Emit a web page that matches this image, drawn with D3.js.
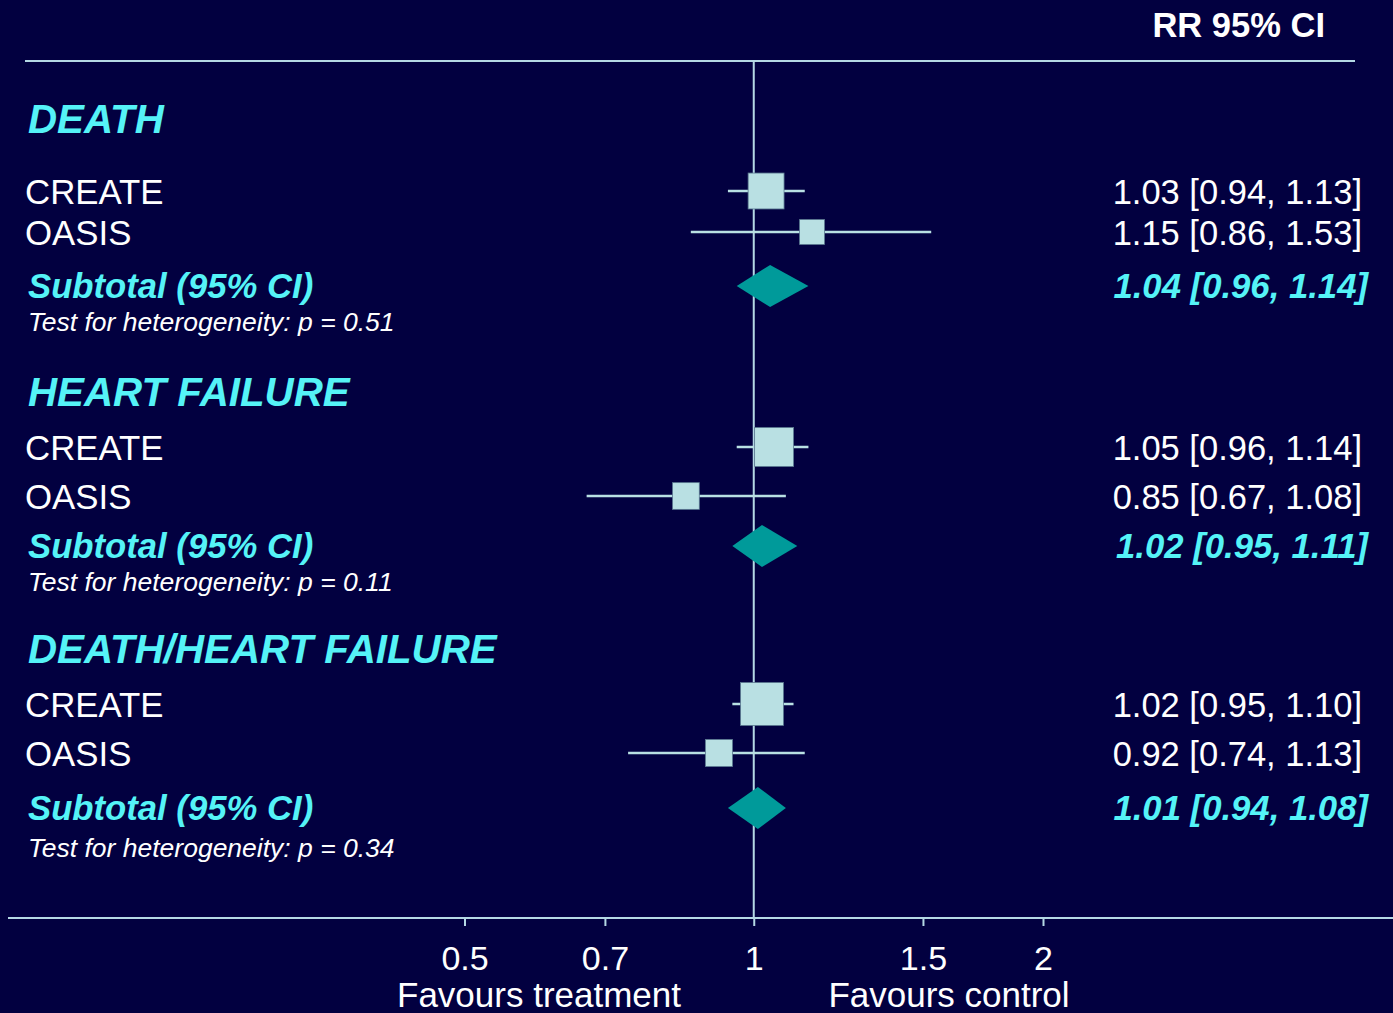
<!DOCTYPE html>
<html>
<head>
<meta charset="utf-8">
<script src="https://cdn.jsdelivr.net/npm/d3@7/dist/d3.min.js"></script>
<style>
  html, body { margin: 0; padding: 0; background: #020040; }
  svg { display: block; }
  text { font-family: "Liberation Sans", Arial, sans-serif; }
</style>
</head>
<body>
<svg id="chart" width="1393" height="1013"></svg>
<script>
// ---------- DATA ----------
const groups = ["DEATH", "HEART FAILURE", "DEATH/HEART FAILURE"];
const studies = ["CREATE", "OASIS"];
const studyRR = [[1.03, 1.15], [1.05, 0.85], [1.02, 0.92]];
const studyLo = [[0.94, 0.86], [0.96, 0.67], [0.95, 0.74]];
const studyHi = [[1.13, 1.53], [1.14, 1.08], [1.10, 1.13]];
const studyWeight = [[56, 27], [66, 31], [80, 32]];
const subRR = [1.04, 1.02, 1.01];
const subLo = [0.96, 0.95, 0.94];
const subHi = [1.14, 1.11, 1.08];
const hetP = ["0.51", "0.11", "0.34"];
const tickValues = [0.5, 0.7, 1, 1.5, 2];
const tickLabels = ["0.5", "0.7", "1", "1.5", "2"];
const headerLabel = "RR 95% CI";
const favourLeft = "Favours treatment";
const favourRight = "Favours control";

// ---------- LAYOUT ----------
const W = 1393, H = 1013;
const bg = "#020040";
const lineCol = "#b4d8e4";
const boxCol = "#b9e0e3";
const diamondCol = "#009a9a";
const cyan = "#55f3f7";
const white = "#ffffff";

// title baselines, study centres, subtotal centre, heterogeneity baseline per group
const layout = [
  { title: 133, rows: [191, 232], sub: 286, het: 331 },
  { title: 406, rows: [447, 496], sub: 546, het: 591 },
  { title: 663, rows: [704, 753], sub: 808, het: 857 }
];

const svg = d3.select("#chart");
svg.append("rect").attr("width", W).attr("height", H).attr("fill", bg);

const x = d3.scaleLog().domain([0.5, 2]).range([464.5, 1043]);
const side = d3.scaleSqrt().domain([0, 100]).range([0, 48]);
const fmt = d3.format(".2f");
const ciText = (r, l, h) => `${fmt(r)} [${fmt(l)}, ${fmt(h)}]`;

const axisY = 918;

// header
svg.append("text").attr("x", 1325).attr("y", 37).attr("text-anchor", "end")
  .attr("font-size", 34.5).attr("font-weight", "bold").attr("fill", white).text(headerLabel);

// top rule
svg.append("line").attr("x1", 25).attr("x2", 1355).attr("y1", 61).attr("y2", 61)
  .attr("stroke", lineCol).attr("stroke-width", 2);

// vertical null line
svg.append("line").attr("x1", x(1)).attr("x2", x(1)).attr("y1", 62).attr("y2", axisY)
  .attr("stroke", lineCol).attr("stroke-width", 2);

// axis
const axisG = svg.append("g").attr("transform", `translate(0,${axisY})`);
axisG.append("line").attr("x1", 8).attr("x2", W).attr("y1", 0).attr("y2", 0)
  .attr("stroke", lineCol).attr("stroke-width", 2);
const axis = d3.axisBottom(x).tickValues(tickValues)
  .tickFormat((d, i) => tickLabels[i]).tickSize(8).tickPadding(20);
const ag = svg.append("g").attr("transform", `translate(0,${axisY})`).call(axis);
ag.select(".domain").remove();
ag.selectAll(".tick line").attr("stroke", lineCol).attr("stroke-width", 2);
ag.selectAll(".tick text").attr("fill", white).attr("font-size", 34)
  .attr("font-family", "'Liberation Sans', Arial, sans-serif")
  .attr("dy", null).attr("y", 52);

svg.append("text").attr("x", 539).attr("y", 1007).attr("text-anchor", "middle")
  .attr("font-size", 35).attr("fill", white).text(favourLeft);
svg.append("text").attr("x", 949).attr("y", 1007).attr("text-anchor", "middle")
  .attr("font-size", 35).attr("fill", white).text(favourRight);

// groups
groups.forEach((g, gi) => {
  const L = layout[gi];
  svg.append("text").attr("x", 28).attr("y", L.title)
    .attr("font-size", 40.3).attr("font-weight", "bold").attr("font-style", "italic")
    .attr("fill", cyan).text(g);

  studies.forEach((s, si) => {
    const cy = L.rows[si];
    svg.append("text").attr("x", 25).attr("y", cy + 13)
      .attr("font-size", 34.8).attr("fill", white).text(s);
    svg.append("text").attr("x", 1362).attr("y", cy + 13).attr("text-anchor", "end")
      .attr("font-size", 34.5).attr("fill", white)
      .text(ciText(studyRR[gi][si], studyLo[gi][si], studyHi[gi][si]));
    svg.append("line")
      .attr("x1", x(studyLo[gi][si])).attr("x2", x(studyHi[gi][si]))
      .attr("y1", cy).attr("y2", cy)
      .attr("stroke", boxCol).attr("stroke-width", 2.5);
    const sz = side(studyWeight[gi][si]);
    svg.append("rect")
      .attr("x", x(studyRR[gi][si]) - sz / 2).attr("y", cy - sz / 2)
      .attr("width", sz).attr("height", sz)
      .attr("fill", boxCol).attr("stroke", "#5a7890").attr("stroke-width", 0.8);
  });

  const sy = L.sub;
  svg.append("text").attr("x", 28).attr("y", sy + 12)
    .attr("font-size", 34.7).attr("font-weight", "bold").attr("font-style", "italic")
    .attr("fill", cyan).text("Subtotal (95% CI)");
  svg.append("text").attr("x", 1368).attr("y", sy + 12).attr("text-anchor", "end")
    .attr("font-size", 34.7).attr("font-weight", "bold").attr("font-style", "italic")
    .attr("fill", cyan).text(ciText(subRR[gi], subLo[gi], subHi[gi]));
  const pts = [
    [x(subLo[gi]), sy], [x(subRR[gi]), sy - 21],
    [x(subHi[gi]), sy], [x(subRR[gi]), sy + 21]
  ];
  svg.append("path").attr("d", d3.line()(pts) + "Z").attr("fill", diamondCol);

  svg.append("text").attr("x", 28).attr("y", L.het)
    .attr("font-size", 26.5).attr("font-style", "italic").attr("fill", white)
    .text(`Test for heterogeneity: p = ${hetP[gi]}`);
});
</script>
</body>
</html>
